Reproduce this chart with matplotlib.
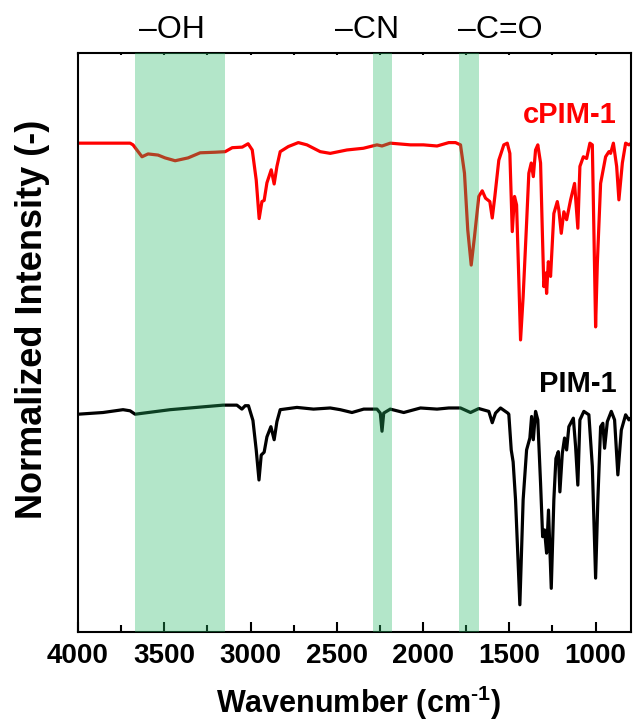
import numpy as np
import matplotlib.pyplot as plt

plt.rcParams['font.family'] = ['Liberation Sans', 'DejaVu Sans']
plt.rcParams['mathtext.fontset'] = 'custom'
plt.rcParams['mathtext.rm'] = 'Liberation Sans:bold'
plt.rcParams['mathtext.bf'] = 'Liberation Sans:bold'
plt.rcParams['mathtext.default'] = 'bf'

# cPIM-1 spectrum (wavenumber, normalized intensity)
wn_cpim = [4000, 3698, 3681, 3629, 3594, 3536, 3495, 3437, 3362, 3292, 3205, 3147, 3106, 3048,
           3014, 2990, 2967, 2950, 2934, 2921, 2905, 2880, 2863, 2847, 2828, 2781, 2723, 2673,
           2596, 2538, 2441, 2346, 2267, 2238, 2190, 2073, 1998, 1919, 1851, 1812, 1783, 1760,
           1741, 1721, 1702, 1677, 1657, 1638, 1613, 1599, 1584, 1561, 1532, 1512, 1497, 1483,
           1470, 1458, 1445, 1435, 1420, 1400, 1387, 1373, 1361, 1348, 1335, 1319, 1309, 1300,
           1290, 1284, 1274, 1261, 1242, 1222, 1213, 1199, 1184, 1168, 1145, 1122, 1103, 1091,
           1071, 1052, 1033, 1019, 1010, 1000, 990, 971, 942, 923, 913, 897, 878, 865, 845, 826,
           807, 793]
int_cpim = [0.862, 0.862, 0.859, 0.838, 0.843, 0.841, 0.836, 0.831, 0.836, 0.845, 0.846, 0.847,
            0.854, 0.855, 0.861, 0.850, 0.797, 0.729, 0.759, 0.761, 0.792, 0.815, 0.790, 0.821,
            0.847, 0.856, 0.863, 0.859, 0.847, 0.844, 0.850, 0.853, 0.859, 0.857, 0.862, 0.859,
            0.859, 0.857, 0.863, 0.863, 0.859, 0.809, 0.709, 0.647, 0.697, 0.768, 0.778, 0.765,
            0.759, 0.730, 0.768, 0.832, 0.859, 0.862, 0.844, 0.706, 0.768, 0.753, 0.621, 0.515,
            0.591, 0.721, 0.809, 0.827, 0.803, 0.850, 0.859, 0.827, 0.709, 0.609, 0.633, 0.597,
            0.653, 0.627, 0.738, 0.759, 0.744, 0.703, 0.741, 0.727, 0.762, 0.791, 0.712, 0.821,
            0.838, 0.835, 0.862, 0.859, 0.709, 0.538, 0.650, 0.791, 0.838, 0.847, 0.844, 0.862,
            0.821, 0.762, 0.827, 0.862, 0.859, 0.862]

# PIM-1 spectrum
wn_pim = [4000, 3855, 3739, 3698, 3669, 3466, 3275, 3159, 3079, 3050, 3031, 3012, 2986, 2967,
          2951, 2938, 2921, 2905, 2882, 2863, 2847, 2828, 2731, 2635, 2538, 2480, 2412, 2344,
          2267, 2248, 2238, 2228, 2190, 2112, 2015, 1919, 1851, 1783, 1725, 1677, 1619, 1599,
          1580, 1551, 1509, 1503, 1489, 1478, 1464, 1439, 1420, 1400, 1381, 1371, 1361, 1348,
          1335, 1319, 1307, 1296, 1284, 1273, 1257, 1242, 1230, 1216, 1207, 1193, 1180, 1168,
          1155, 1129, 1116, 1103, 1091, 1068, 1039, 1019, 1000, 987, 971, 958, 948, 932, 909,
          890, 871, 851, 826, 807, 797]
int_pim = [0.384, 0.387, 0.392, 0.390, 0.384, 0.392, 0.397, 0.400, 0.400, 0.393, 0.399, 0.399,
           0.373, 0.321, 0.268, 0.312, 0.317, 0.344, 0.362, 0.339, 0.371, 0.392, 0.396, 0.393,
           0.395, 0.392, 0.387, 0.393, 0.393, 0.386, 0.354, 0.386, 0.393, 0.387, 0.395, 0.393,
           0.395, 0.395, 0.387, 0.394, 0.389, 0.369, 0.386, 0.395, 0.386, 0.384, 0.321, 0.300,
           0.233, 0.048, 0.233, 0.321, 0.342, 0.380, 0.339, 0.389, 0.374, 0.262, 0.168, 0.180,
           0.139, 0.215, 0.077, 0.233, 0.306, 0.318, 0.247, 0.315, 0.342, 0.321, 0.362, 0.377,
           0.327, 0.259, 0.374, 0.389, 0.383, 0.292, 0.095, 0.233, 0.362, 0.368, 0.324, 0.371,
           0.389, 0.374, 0.277, 0.356, 0.383, 0.374, 0.377]

# highlighted bands and their labels
bands = [(3670, 3150), (2290, 2180), (1790, 1675)]
band_labels = ['\u2013OH', '\u2013CN', '\u2013C=O']
band_label_x = [3457, 2325, 1551]

fig = plt.figure(figsize=(6.33, 7.22), dpi=100)
ax = fig.add_axes([0.1232, 0.1247, 0.8736, 0.8019])

ax.plot(wn_cpim, int_cpim, color='#ff0000', lw=2.3, zorder=2)
ax.plot(wn_pim, int_pim, color='black', lw=2.3, zorder=2)

for (a, b), lab, lx in zip(bands, band_labels, band_label_x):
    ax.axvspan(b, a, color='#26b865', alpha=0.35, lw=0, zorder=3)
    ax.text(lx, 1.04, lab, transform=ax.get_xaxis_transform(), ha='center', va='center',
            fontsize=23)

ax.text(880, 0.893, 'cPIM-1', transform=ax.get_xaxis_transform(), ha='right', va='center',
        fontsize=21, fontweight='bold', color='#ff0000')
ax.text(880, 0.428, 'PIM-1', transform=ax.get_xaxis_transform(), ha='right', va='center',
        fontsize=21, fontweight='bold', color='black')

ax.set_xlim(4000, 795)
ax.set_ylim(0, 1.021)
ax.set_xticks([4000, 3500, 3000, 2500, 2000, 1500, 1000])
ax.set_xticks(np.arange(3750, 795, -500), minor=True)
ax.set_yticks([])
ax.tick_params(axis='x', which='major', direction='in', length=7, width=1.5, pad=8,
               labelsize=20, top=True)
ax.tick_params(axis='x', which='minor', direction='in', length=5, width=1.5, top=True)
for lbl in ax.get_xticklabels():
    lbl.set_fontweight('bold')
for t in ax.xaxis.get_major_ticks() + ax.xaxis.get_minor_ticks():
    t.tick2line.set_markersize(1.5)
for s in ax.spines.values():
    s.set_linewidth(1.5)

ax.set_xlabel(r'Wavenumber (cm$^{\text{-1}}$)', fontsize=22, fontweight='bold')
ax.xaxis.set_label_coords(0.507, -0.089)
ax.xaxis.label.set_va('top')
ax.set_ylabel('Normalized Intensity (-)', fontsize=26, fontweight='bold')
ax.yaxis.set_label_coords(-0.05, 0.54)

fig.savefig('out.png', dpi=100)
